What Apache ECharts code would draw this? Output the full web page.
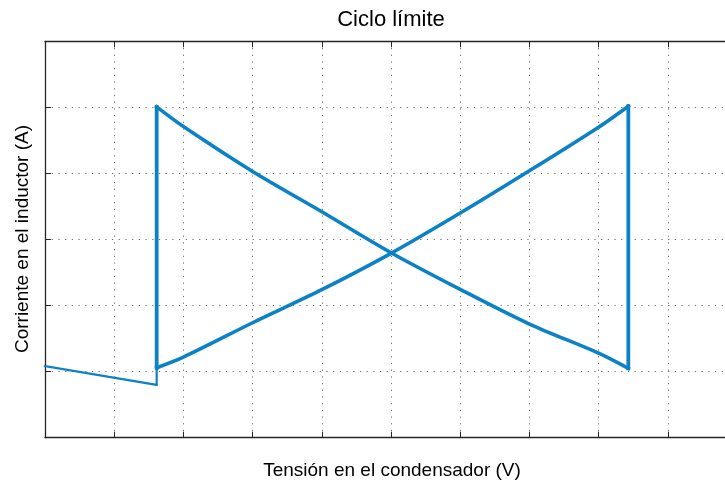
<!DOCTYPE html>
<html>
<head>
<meta charset="utf-8">
<script src="https://cdn.jsdelivr.net/npm/echarts@6/dist/echarts.min.js"></script>
<style>html,body{margin:0;padding:0;background:#fff}#c{width:725px;height:485px}</style>
</head>
<body>
<div id="c"></div>
<script>
// ---- data ----
const titleText = 'Ciclo límite';
const xLabel = 'Tensión en el condensador (V)';
const yLabel = 'Corriente en el inductor (A)';

const transientX = [0, 1.614, 1.614];
const transientY = [1.085, 0.80, 1.059];

const risingX = [1.614, 2, 3, 4, 5, 6, 7, 8, 8.43];
const risingY = [1.059, 1.22, 1.74, 2.24, 2.79, 3.40, 4.04, 4.70, 5.018];

const fallingX = [1.614, 2, 3, 4, 5, 6, 7, 8, 8.43];
const fallingY = [5.008, 4.71, 4.03, 3.42, 2.80, 2.245, 1.72, 1.28, 1.05];

// visible x range (the plot box continues past the right edge of the picture)
const xMin = 0, xMax = 9.827, xStep = 1;
const yMin = 0, yMax = 6, yStep = 1;

// ---- build ----
const pairs = (xs, ys) => xs.map((x, i) => [x, ys[i]]);
const transient = pairs(transientX, transientY);
const rising = pairs(risingX, risingY);
const falling = pairs(fallingX, fallingY);
const nR = rising.length - 1, nF = falling.length - 1;
const verticals = [falling[0], rising[0], null, rising[nR], falling[nF]];

const lineColor = '#0C82C6';
const axisColor = '#262626';
const gridLine = { show: true, lineStyle: { color: '#6e6e6e', type: [1.2, 5.5], width: 1 } };
const font = '"Liberation Sans", Arial, Helvetica, sans-serif';

const lineSeries = (data, width, smooth) => ({
  type: 'line', xAxisIndex: 0, yAxisIndex: 0, data, showSymbol: false,
  smooth: smooth ? 0.3 : false,
  connectNulls: false,
  lineStyle: { color: lineColor, width, join: 'miter', cap: 'square' }, itemStyle: { color: lineColor }
});

const chart = echarts.init(document.getElementById('c'), null, { renderer: 'canvas' });
chart.setOption({
  animation: false,
  backgroundColor: '#fff',
  grid: { left: 45, top: 41.3, right: 0, height: 396.4, containLabel: false },
  xAxis: [
    { type: 'value', position: 'bottom', min: xMin, max: xMax, interval: xStep,
      axisLine: { show: true, onZero: false, lineStyle: { color: axisColor, width: 1.3 } },
      axisTick: { show: true, inside: true, length: 6, lineStyle: { color: axisColor } },
      axisLabel: { show: false }, splitLine: gridLine },
    { type: 'value', position: 'top', min: xMin, max: xMax, interval: xStep,
      axisLine: { show: true, onZero: false, lineStyle: { color: axisColor, width: 1.3 } },
      axisTick: { show: true, inside: true, length: 6, lineStyle: { color: axisColor } },
      axisLabel: { show: false }, splitLine: { show: false } }
  ],
  yAxis: [
    { type: 'value', position: 'left', min: yMin, max: yMax, interval: yStep,
      axisLine: { show: true, onZero: false, lineStyle: { color: axisColor, width: 1.3 } },
      axisTick: { show: true, inside: true, length: 6, lineStyle: { color: axisColor } },
      axisLabel: { show: false }, splitLine: gridLine }
  ],
  series: [
    lineSeries(transient, 2.2, false),
    lineSeries(verticals, 3.8, false),
    lineSeries(rising, 3.6, true),
    lineSeries(falling, 3.6, true)
  ],
  graphic: [
    { type: 'text', x: 391, y: 19.5, style: { text: titleText, font: '22px ' + font, fill: '#000',
      align: 'center', verticalAlign: 'middle', textAlign: 'center', textVerticalAlign: 'middle' } },
    { type: 'text', x: 392, y: 471, style: { text: xLabel, font: '19px ' + font, fill: '#000',
      align: 'center', verticalAlign: 'middle', textAlign: 'center', textVerticalAlign: 'middle' } },
    { type: 'text', x: 23, y: 239, rotation: Math.PI / 2, style: { text: yLabel, font: '19px ' + font, fill: '#000',
      align: 'center', verticalAlign: 'middle', textAlign: 'center', textVerticalAlign: 'middle' } }
  ]
});
</script>
</body>
</html>
